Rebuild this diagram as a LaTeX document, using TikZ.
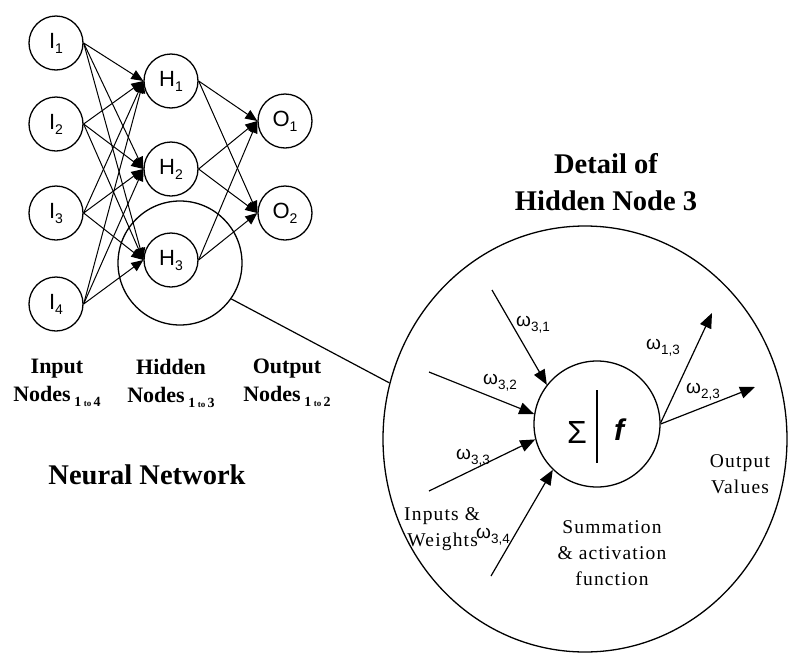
\documentclass[tikz,border=0pt]{standalone}
\usepackage{fontspec}
\setmainfont{Liberation Serif}
\newfontfamily\arialf{Liberation Sans}
\newfontfamily\spcf[LetterSpace=6]{Liberation Serif}
\usetikzlibrary{arrows.meta,shapes.geometric}
\newcommand\nlab[2]{{\arialf\fontsize{22}{22}\selectfont #1\raisebox{-5pt}{\fontsize{14}{14}\selectfont #2}}}
\newcommand\wlab[1]{{\arialf\fontsize{19}{19}\selectfont ω\raisebox{-5pt}{\fontsize{13.5}{13.5}\selectfont #1}}}
\newcommand\rangesub[2]{\raisebox{-5pt}{\fontsize{14}{14}\selectfont\bfseries #1\,{\fontsize{9}{9}\selectfont to}\,#2}}
\begin{document}
\begin{tikzpicture}[x=1pt,y=-1pt,
  neuron/.style={circle,draw,line width=1.3pt,minimum size=54pt,inner sep=0pt},
  nedge/.style={line width=1pt,-{Triangle[length=12pt,width=10pt]}},
  dedge/.style={line width=1.2pt,-{Triangle[length=15pt,width=12pt]}},
  collbl/.style={align=center,font=\fontsize{22}{28}\selectfont\bfseries,inner sep=0pt},
  bigttl/.style={align=center,font=\fontsize{28.5}{37}\selectfont\bfseries,inner sep=0pt},
  dtxt/.style={align=center,font=\spcf\fontsize{19.5}{26}\selectfont,inner sep=0pt},
  wl/.style={inner sep=0pt}]
\useasboundingbox (0,0) rectangle (788,654);
% network nodes
\node[neuron] (I1) at (56,43) {\nlab{I}{1}};
\node[neuron] (I2) at (56,124) {\nlab{I}{2}};
\node[neuron] (I3) at (56,213) {\nlab{I}{3}};
\node[neuron] (I4) at (56,304) {\nlab{I}{4}};
\node[neuron] (H1) at (171,81) {\nlab{H}{1}};
\node[neuron] (H2) at (171,169) {\nlab{H}{2}};
\node[neuron] (H3) at (171,260) {\nlab{H}{3}};
\node[neuron] (O1) at (285,121) {\nlab{O}{1}};
\node[neuron] (O2) at (285,213) {\nlab{O}{2}};
\node[circle,draw,line width=1.3pt,minimum size=124pt,inner sep=0pt] (big) at (180,263) {};
% network edges
\foreach \i in {1,2,3,4}{
  \foreach \h in {1,2,3}{
    \draw[nedge] (I\i.east) -- (H\h.west);
  }
}
\foreach \h in {1,2,3}{
  \foreach \o in {1,2}{
    \draw[nedge] (H\h.east) -- (O\o.west);
  }
}
% labels
\node[collbl] (linp) at (57,383) {Input\\Nodes\,\rangesub{1}{4}};
\node[collbl] (lhid) at (171,383) {Hidden\\Nodes\,\rangesub{1}{3}};
\node[collbl] (lout) at (287,383) {Output\\Nodes\,\rangesub{1}{2}};
\node[bigttl] (nn) at (147,475) {Neural Network};
\node[bigttl] (dt) at (606,182) {Detail of\\Hidden Node 3};
% detail
\node[ellipse,draw,line width=1.3pt,minimum width=404pt,minimum height=426pt,inner sep=0pt] (det) at (585,439) {};
\draw[line width=1.2pt] (big.-35) -- (det.164);
\node[circle,draw,line width=1.3pt,minimum size=126pt,inner sep=0pt] (sf) at (597,424) {};
\draw[line width=1.3pt] (sf.center) ++(0,-34) -- ++(0,73);
\node[inner sep=0pt] (sig) at (577,432) {\arialf\fontsize{32}{32}\selectfont Σ};
\node[inner sep=0pt] (fn) at (619,430) {\arialf\bfseries\itshape\fontsize{30}{30}\selectfont f};
\coordinate (in1) at (492,290);
\coordinate (in2) at (429,372);
\coordinate (in3) at (429,491);
\coordinate (in4) at (491,576);
\coordinate (out1) at (712,313);
\coordinate (out2) at (755,387);
\draw[dedge] (in1) -- (sf.142);
\draw[dedge] (in2) -- (sf.171);
\draw[dedge] (in3) -- (sf.194);
\draw[dedge] (in4) -- (sf.226);
\draw[dedge] (sf.1) -- (out1);
\draw[dedge] (sf.0) -- (out2);
\node[wl] (w31) at (533,325) {\wlab{3,1}};
\node[wl] (w32) at (500,383) {\wlab{3,2}};
\node[wl] (w33) at (473,458) {\wlab{3,3}};
\node[wl] (w34) at (493,537) {\wlab{3,4}};
\node[wl] (w13) at (663,348) {\wlab{1,3}};
\node[wl] (w23) at (703,392) {\wlab{2,3}};
\node[dtxt,align=left,anchor=west] (iw) at (404,529) {Inputs \&\\\,Weights};
\node[dtxt] (ov) at (740,474) {Output\\Values};
\node[dtxt] (sm) at (612,553) {Summation\\\& activation\\function};
\end{tikzpicture}
\end{document}
